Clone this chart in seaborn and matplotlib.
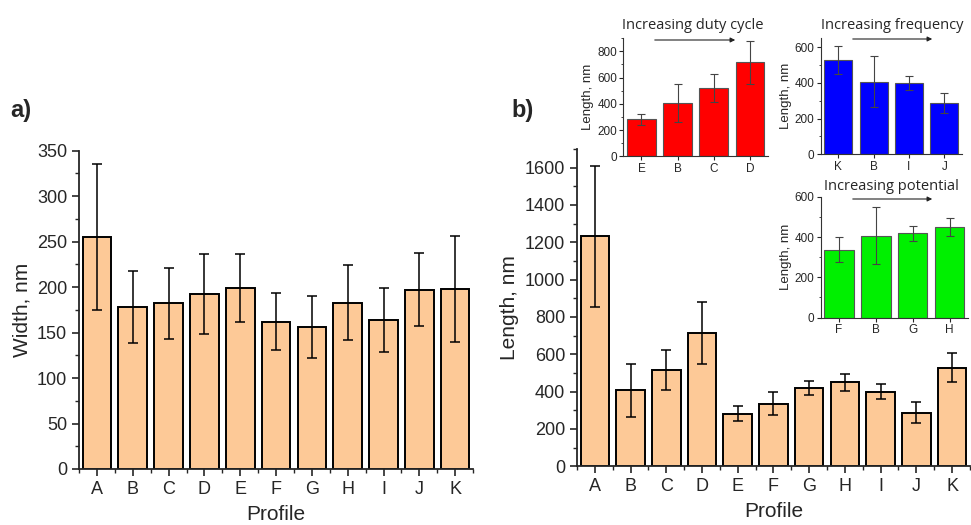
import matplotlib
matplotlib.use("Agg")
import matplotlib.pyplot as plt
import seaborn as sns
import pandas as pd
import numpy as np
from matplotlib.ticker import MultipleLocator

# values
profiles = ["A", "B", "C", "D", "E", "F", "G", "H", "I", "J", "K"]
width_nm = [255, 178, 182, 192, 199, 162, 156, 183, 164, 197, 198]
width_err = [80, 40, 39, 44, 37, 31, 34, 41, 35, 40, 58]
length_nm = [1232, 407, 518, 716, 282, 336, 418, 449, 399, 288, 527]
length_err = [377, 143, 107, 166, 41, 62, 38, 43, 41, 54, 78]

duty_order = ["E", "B", "C", "D"]
freq_order = ["K", "B", "I", "J"]
pot_order = ["F", "B", "G", "H"]

df = pd.DataFrame({"Profile": profiles, "Width": width_nm, "WidthErr": width_err,
                   "Length": length_nm, "LengthErr": length_err})

sns.set_style("ticks")
plt.rcParams["font.family"] = ["Liberation Sans", "DejaVu Sans"]

PEACH = "#FDC997"
W, H = 971, 525

fig = plt.figure(figsize=(9.71, 5.25), dpi=100)


def main_panel(rect, col, errcol, ymax, major, minor, ylabel):
    ax = fig.add_axes(rect)
    sns.barplot(data=df, x="Profile", y=col, ax=ax, color=PEACH, saturation=1,
                edgecolor="black", linewidth=1.4, width=0.8, errorbar=None)
    ax.errorbar(np.arange(len(df)), df[col], yerr=df[errcol], fmt="none",
                ecolor="black", elinewidth=1.1, capsize=3.5, capthick=1.1)
    ax.set_xlim(-0.5, 10.5)
    ax.set_ylim(0, ymax)
    ax.yaxis.set_major_locator(MultipleLocator(major))
    ax.yaxis.set_minor_locator(MultipleLocator(minor))
    ax.set_xticks(np.arange(-0.5, 11, 1), minor=True)
    ax.tick_params(axis="both", which="major", labelsize=13, length=5, width=1.2)
    ax.tick_params(axis="both", which="minor", length=3, width=1.0)
    ax.set_xlabel("Profile", fontsize=15, labelpad=5)
    ax.set_ylabel(ylabel, fontsize=15)
    for s in ["left", "bottom"]:
        ax.spines[s].set_linewidth(1.3)
    sns.despine(ax=ax)
    return ax


ax_a = main_panel([0.0814, 0.1067, 0.4058, 0.6063], "Width", "WidthErr",
                  350, 50, 25, "Width, nm")
ax_b = main_panel([0.5942, 0.1118, 0.4047, 0.6044], "Length", "LengthErr",
                  1700, 200, 100, "Length, nm")

fig.text(0.011, 0.778, "a)", fontsize=17, fontweight="bold")
fig.text(0.527, 0.778, "b)", fontsize=17, fontweight="bold")


def inset(rect, order, color, ymax, title, title_xy):
    ax = fig.add_axes(rect)
    sub = df.set_index("Profile").loc[order].reset_index()
    sns.barplot(data=sub, x="Profile", y="Length", ax=ax, color=color, saturation=1,
                edgecolor="#555555", linewidth=0.8, width=0.8, errorbar=None)
    ax.errorbar(np.arange(len(sub)), sub["Length"], yerr=sub["LengthErr"], fmt="none",
                ecolor="#444444", elinewidth=0.8, capsize=3, capthick=0.8)
    ax.set_xlim(-0.5, 3.5)
    ax.set_ylim(0, ymax)
    ax.yaxis.set_major_locator(MultipleLocator(200))
    ax.yaxis.set_minor_locator(MultipleLocator(100))
    ax.tick_params(axis="both", which="major", labelsize=8.5, length=3, width=0.8, pad=1.5)
    ax.tick_params(axis="both", which="minor", length=1.8, width=0.6)
    ax.set_xlabel("")
    ax.set_ylabel("Length, nm", fontsize=9.5, labelpad=2)
    for s in ["left", "bottom"]:
        ax.spines[s].set_linewidth(0.8)
        ax.spines[s].set_color("#333333")
    sns.despine(ax=ax)
    fig.text(title_xy[0] / W, 1 - title_xy[1] / H, title, ha="center", va="baseline",
             fontsize=10.5, family=["Open Sans", "DejaVu Sans"])
    return ax


ax_r = inset([0.642, 0.7023, 0.149, 0.2248], duty_order, "#FF0000", 900,
             "Increasing duty cycle", (693, 29))
ax_bl = inset([0.8452, 0.7061, 0.1455, 0.221], freq_order, "#0000FF", 650,
              "Increasing frequency", (892, 29))
ax_g = inset([0.8452, 0.395, 0.1517, 0.2303], pot_order, "#00F000", 600,
             "Increasing potential", (891, 190))

arrows = [((652, 40), (738, 40)), ((850, 39), (935, 39)), ((850, 199), (935, 199))]
for (x0, y0), (x1, y1) in arrows:
    fig.add_artist(matplotlib.patches.FancyArrowPatch(
        (x0 / W, 1 - y0 / H), (x1 / W, 1 - y1 / H), transform=fig.transFigure,
        arrowstyle="-|>", mutation_scale=7, lw=0.8, color="#222222"))

fig.savefig("out.png", dpi=100)
